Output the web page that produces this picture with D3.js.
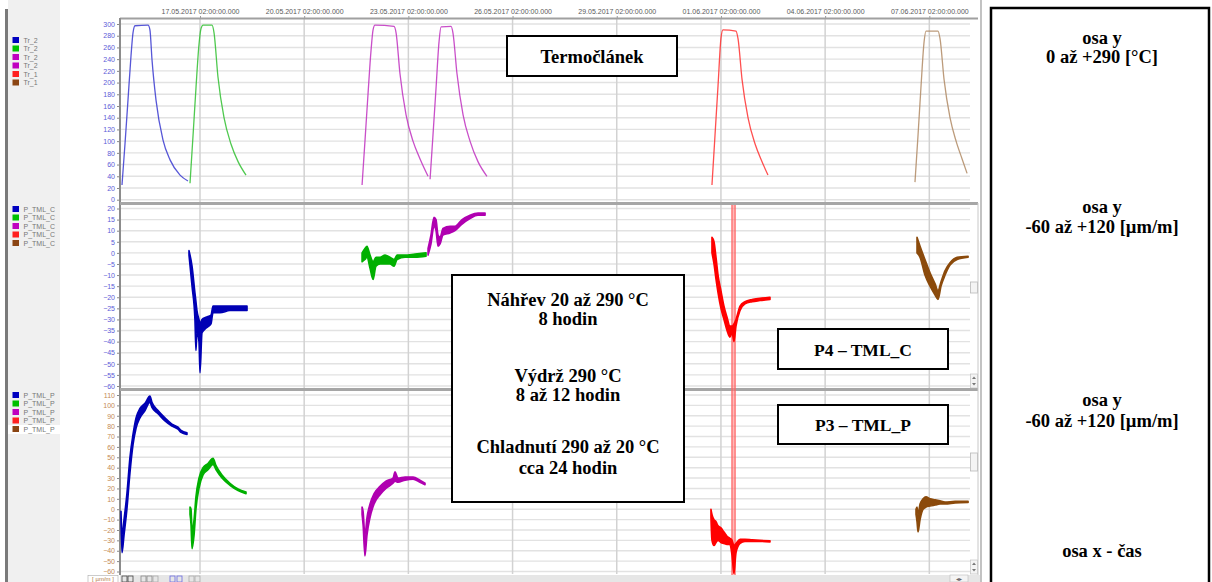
<!DOCTYPE html>
<html><head><meta charset="utf-8">
<script src="https://cdn.jsdelivr.net/npm/d3@7"></script>
<style>body{margin:0;background:#fff;overflow:hidden}svg{display:block}</style>
</head><body><svg id="c" width="1212" height="582"></svg>
<script>
// ---------- DATA ----------
const xDomain = ["14.05.2017 18:43", "08.06.2017 06:07"];
const dateTicks = ["17.05.2017 02:00","20.05.2017 02:00","23.05.2017 02:00","26.05.2017 02:00","29.05.2017 02:00","01.06.2017 02:00","04.06.2017 02:00","07.06.2017 02:00"];
const tempTicks = [0,20,40,60,80,100,120,140,160,180,200,220,240,260,280,300];
const cTicks = [20,15,10,5,0,-5,-10,-15,-20,-25,-30,-35,-40,-45,-50,-55,-60];
const pTicks = [110,100,90,80,70,60,50,40,30,20,10,0,-10,-20,-30,-40,-50,-60];

const tempNames = ["Tr_2","Tr_2","Tr_2","Tr_2","Tr_1","Tr_1"];
const cNames = ["P_TML_C","P_TML_C","P_TML_C","P_TML_C","P_TML_C"];
const pNames = ["P_TML_P","P_TML_P","P_TML_P","P_TML_P","P_TML_P"];

// temperature [time, °C]
const tBlue = [["14.05.2017 20:06",25],["14.05.2017 22:10",95],["15.05.2017 00:14",170],["15.05.2017 02:18",245],["15.05.2017 03:42",285],["15.05.2017 05:06",297],["15.05.2017 14:06",298],["15.05.2017 15:24",290],["15.05.2017 16:48",240],["15.05.2017 19:36",170],["16.05.2017 00:24",102],["16.05.2017 05:18",68],["16.05.2017 12:12",42],["16.05.2017 17:42",32]];
const tGreen = [["16.05.2017 19:06",28],["16.05.2017 21:12",110],["16.05.2017 23:12",190],["17.05.2017 01:18",265],["17.05.2017 02:42",292],["17.05.2017 04:06",298],["17.05.2017 10:18",298],["17.05.2017 11:42",285],["17.05.2017 14:24",210],["17.05.2017 18:36",140],["17.05.2017 23:24",95],["18.05.2017 04:18",65],["18.05.2017 09:48",42]];
const tMagenta1 = [["21.05.2017 18:00",25],["21.05.2017 20:00",100],["21.05.2017 22:06",180],["22.05.2017 00:12",255],["22.05.2017 01:36",290],["22.05.2017 02:54",298],["22.05.2017 16:06",296],["22.05.2017 17:30",285],["22.05.2017 20:12",215],["23.05.2017 00:24",145],["23.05.2017 05:12",100],["23.05.2017 10:00",70],["23.05.2017 15:36",40]];
const tMagenta2 = [["23.05.2017 17:00",35],["23.05.2017 19:00",110],["23.05.2017 21:06",190],["23.05.2017 23:12",270],["24.05.2017 00:36",295],["24.05.2017 07:30",296],["24.05.2017 08:48",285],["24.05.2017 11:36",215],["24.05.2017 15:48",145],["24.05.2017 20:36",100],["25.05.2017 02:06",65],["25.05.2017 08:18",40]];
const tRed = [["31.05.2017 19:48",25],["31.05.2017 21:54",110],["01.06.2017 00:00",195],["01.06.2017 02:00",275],["01.06.2017 03:24",290],["01.06.2017 12:24",288],["01.06.2017 13:48",275],["01.06.2017 16:36",205],["01.06.2017 20:42",140],["02.06.2017 01:36",95],["02.06.2017 06:24",65],["02.06.2017 10:30",42]];
const tBrown = [["06.06.2017 16:06",30],["06.06.2017 18:12",110],["06.06.2017 20:18",195],["06.06.2017 22:24",270],["06.06.2017 23:42",288],["07.06.2017 08:00",288],["07.06.2017 09:24",275],["07.06.2017 12:12",205],["07.06.2017 16:18",140],["07.06.2017 20:30",100],["08.06.2017 00:36",70],["08.06.2017 04:06",45]];

// strain C [time, low, high] µm/m
const cBlue = [["16.05.2017 18:24",-1,1],["16.05.2017 20:30",-15,-6],["16.05.2017 22:30",-30,-18],["16.05.2017 23:12",-44,-22],["16.05.2017 23:54",-36,-26],["17.05.2017 01:18",-40,-30],["17.05.2017 02:00",-54,-32],["17.05.2017 03:24",-36,-30],["17.05.2017 06:06",-34,-29],["17.05.2017 09:36",-32,-28],["17.05.2017 11:00",-27,-24],["17.05.2017 15:48",-27,-24],["17.05.2017 22:42",-26,-24],["18.05.2017 10:30",-26,-24]];
const cGreen = [["21.05.2017 18:00",-4,0],["21.05.2017 20:00",-3,2],["21.05.2017 21:24",-2,3],["21.05.2017 23:30",-7,-1],["22.05.2017 01:36",-12,-4],["22.05.2017 03:36",-6,-2],["22.05.2017 06:24",-5,-2],["22.05.2017 09:54",-5,-1],["22.05.2017 13:18",-5,-2],["22.05.2017 16:06",-6,-3],["22.05.2017 18:12",-3,-1],["22.05.2017 23:42",-2,-1],["23.05.2017 06:36",-2,-0.5],["23.05.2017 14:12",-1.5,0]];
const cMagenta = [["23.05.2017 15:36",-1,2],["23.05.2017 17:36",4,8],["23.05.2017 19:42",12,16],["23.05.2017 21:06",10,15],["23.05.2017 22:30",3,8],["23.05.2017 23:54",4,7],["24.05.2017 01:54",8,11],["24.05.2017 06:48",9,12],["24.05.2017 10:12",10,12],["24.05.2017 15:06",13,15],["24.05.2017 20:36",15.5,17],["25.05.2017 02:06",17,18],["25.05.2017 07:00",17,18]];
const cRed = [["31.05.2017 19:48",0,7],["31.05.2017 21:12",-5,5],["31.05.2017 22:36",-12,-2],["01.06.2017 00:00",-18,-10],["01.06.2017 02:00",-25,-17],["01.06.2017 04:06",-30,-24],["01.06.2017 06:12",-35,-29],["01.06.2017 08:12",-38,-33],["01.06.2017 09:42",-36,-33],["01.06.2017 11:00",-40,-32],["01.06.2017 12:24",-33,-30],["01.06.2017 15:12",-26,-24],["01.06.2017 18:36",-23,-22],["01.06.2017 23:30",-22,-21],["02.06.2017 05:00",-21.5,-20.5],["02.06.2017 11:54",-21,-20]];
const cBrown = [["06.06.2017 17:30",0,7],["06.06.2017 19:36",-2,3],["06.06.2017 23:00",-10,-3],["07.06.2017 02:30",-15,-9],["07.06.2017 06:00",-19,-14],["07.06.2017 08:00",-21,-17],["07.06.2017 10:06",-15,-13],["07.06.2017 12:54",-10,-8],["07.06.2017 16:18",-5.5,-4.5],["07.06.2017 21:12",-3,-2],["08.06.2017 04:48",-2,-1.5]];

// strain P [time, low, high] µm/m
const pBlue = [["14.05.2017 19:24",-10,-2],["14.05.2017 20:06",-42,-25],["14.05.2017 21:30",-25,-10],["14.05.2017 23:30",0,15],["15.05.2017 01:36",35,50],["15.05.2017 03:42",62,72],["15.05.2017 05:48",78,88],["15.05.2017 08:30",88,97],["15.05.2017 12:00",95,102],["15.05.2017 15:24",103,109],["15.05.2017 16:48",98,103],["15.05.2017 21:00",92,95],["16.05.2017 01:48",85,88],["16.05.2017 06:36",80,82],["16.05.2017 10:48",77,79],["16.05.2017 12:54",74,76],["16.05.2017 17:00",72,73.5]];
const pGreen = [["16.05.2017 19:06",-5,2],["16.05.2017 19:48",-15,0],["16.05.2017 20:30",-38,-20],["16.05.2017 21:54",-25,-10],["16.05.2017 23:12",0,12],["17.05.2017 01:18",20,30],["17.05.2017 04:06",33,40],["17.05.2017 07:30",38,44],["17.05.2017 11:00",43,49],["17.05.2017 13:06",38,42],["17.05.2017 17:12",30,33],["17.05.2017 22:42",23,25],["18.05.2017 04:18",18,19.5],["18.05.2017 09:48",15,16.5]];
const pMagenta = [["21.05.2017 18:00",-5,2],["21.05.2017 18:42",-15,-2],["21.05.2017 20:00",-45,-25],["21.05.2017 21:24",-25,-8],["21.05.2017 23:30",-8,5],["22.05.2017 02:18",5,15],["22.05.2017 06:24",14,22],["22.05.2017 10:30",20,27],["22.05.2017 15:24",25,30],["22.05.2017 16:48",27,36],["22.05.2017 18:48",26,30],["22.05.2017 23:42",28,31],["23.05.2017 05:12",29,31],["23.05.2017 10:00",26,28],["23.05.2017 13:30",23.5,25]];
const pRed = [["31.05.2017 19:06",-8,0],["31.05.2017 19:48",-30,-5],["31.05.2017 21:12",-35,-10],["31.05.2017 22:36",-32,-12],["01.06.2017 00:00",-30,-16],["01.06.2017 02:00",-32,-18],["01.06.2017 04:06",-33,-22],["01.06.2017 06:12",-34,-26],["01.06.2017 08:12",-34,-28],["01.06.2017 09:42",-45,-30],["01.06.2017 11:00",-62,-35],["01.06.2017 12:24",-42,-33],["01.06.2017 15:12",-33,-29],["01.06.2017 18:36",-31,-29],["01.06.2017 23:30",-31,-29.5],["02.06.2017 05:00",-31,-30],["02.06.2017 11:54",-31.5,-30.5]];
const pBrown = [["06.06.2017 16:48",-5,0],["06.06.2017 17:30",-12,2],["06.06.2017 18:12",-22,-5],["06.06.2017 19:36",-10,5],["06.06.2017 21:42",0,10],["06.06.2017 23:42",2,12],["07.06.2017 02:30",3,10],["07.06.2017 06:00",4,9],["07.06.2017 09:24",5,8],["07.06.2017 12:54",5,7],["07.06.2017 19:48",6,7.5],["08.06.2017 04:48",6.5,7.5]];

const markerBand = ["01.06.2017 09:00","01.06.2017 12:24"];

const boxTitle = "Termočlánek";
const boxInfo = ["Náhřev 20 až 290 °C","8 hodin","Výdrž 290 °C","8 až 12 hodin","Chladnutí 290 až 20 °C","cca 24 hodin"];
const boxC = "P4 – TML_C";
const boxP = "P3 – TML_P";
const sideTexts = [["osa y","0 až +290 [°C]"],["osa y","-60 až +120 [µm/m]"],["osa y","-60 až +120 [µm/m]"],["osa x - čas"]];

// ---------- DRAW ----------
const svg = d3.select("#c");
const parse = d3.timeParse("%d.%m.%Y %H:%M");
const X0 = 120, X1 = 970;
const x = d3.scaleTime().domain(xDomain.map(parse)).range([X0, X1]);

const tempColors = ["#3a3ad0","#30c030","#c030c0","#c030c0","#ff3030","#b08a64"];
const strainColors = ["#0000b4","#00b000","#b000b0","#ff0000","#8b4a0b"];
const legendTemp = ["#0000c0","#00c000","#c000c0","#c000c0","#ff2020","#8b4513"];
const legendStrain = ["#0000c0","#00c000","#c000c0","#ff2020","#8b4513"];

const panels = [
  {top:19, bottom:202, y:d3.scaleLinear().domain([0,300]).range([199.7,24]), ticks:tempTicks, color:"#5c5cd8"},
  {top:205, bottom:388, y:d3.scaleLinear().domain([-60,20]).range([386,208.5]), ticks:cTicks, color:"#5c5cd8"},
  {top:391, bottom:574, y:d3.scaleLinear().domain([-60,110]).range([571.5,395]), ticks:pTicks, color:"#c48a55"}
];

// left sidebar
svg.append("rect").attr("x",8).attr("y",0).attr("width",52).attr("height",582).attr("fill","#f0f0f0");
svg.append("rect").attr("x",5).attr("y",9).attr("width",3).attr("height",573).attr("fill","#7a7a7a");
svg.append("rect").attr("x",8).attr("y",425).attr("width",52).attr("height",9).attr("fill","#fff");

// clip paths
const defs = svg.append("defs");
panels.forEach((p,i)=>{
  defs.append("clipPath").attr("id","clip"+i).append("rect")
    .attr("x",X0).attr("y",p.top).attr("width",X1-X0).attr("height",p.bottom-p.top);
});

// horizontal grid
panels.forEach(p=>{
  svg.append("g").selectAll("line").data(p.ticks).join("line")
    .attr("x1",X0).attr("x2",X1).attr("y1",d=>p.y(d)).attr("y2",d=>p.y(d))
    .attr("stroke","#e2e2e2").attr("stroke-width",1.4);
});
// vertical grid
svg.append("g").selectAll("line").data(dateTicks.map(parse)).join("line")
  .attr("x1",d=>x(d)).attr("x2",d=>x(d)).attr("y1",19).attr("y2",574)
  .attr("stroke","#d2d2d2").attr("stroke-width",1.5);

// top date axis
const ax = svg.append("g").attr("transform","translate(0,19)")
  .call(d3.axisTop(x).tickValues(dateTicks.map(parse)).tickSize(3).tickPadding(2)
    .tickFormat(d3.timeFormat("%d.%m.%Y %H:%M:%S.000")));
ax.select(".domain").remove();
ax.selectAll("line").attr("stroke","#999");
ax.selectAll("text").attr("fill","#5a5a5a").style("font-size","7px").style("font-family","Liberation Sans, Arial, sans-serif");

// top border
svg.append("line").attr("x1",X0).attr("x2",978).attr("y1",18.5).attr("y2",18.5).attr("stroke","#a0a0a0").attr("stroke-width",2);

// y axes
panels.forEach(p=>{
  const g = svg.append("g").attr("transform",`translate(${X0},0)`)
    .call(d3.axisLeft(p.y).tickValues(p.ticks).tickSize(3).tickPadding(2).tickFormat(d3.format("d")));
  g.select(".domain").remove();
  g.selectAll("line").attr("stroke","#888");
  g.selectAll("text").attr("fill",p.color).style("font-size","7px").style("font-family","Liberation Sans, Arial, sans-serif");
});
svg.append("line").attr("x1",X0).attr("x2",X0).attr("y1",18).attr("y2",575).attr("stroke","#8c8c8c").attr("stroke-width",2);

// panel separators
[203.5, 389.5].forEach(yy=>{
  svg.append("line").attr("x1",X0).attr("x2",978).attr("y1",yy).attr("y2",yy).attr("stroke","#a6a6a6").attr("stroke-width",3);
});

// marker band
const mb = markerBand.map(parse);
svg.append("rect").attr("x",x(mb[0])).attr("y",205).attr("width",x(mb[1])-x(mb[0])).attr("height",377)
  .attr("fill","#ff8080").attr("opacity",0.55);
svg.append("line").attr("x1",x(mb[0])+1).attr("x2",x(mb[0])+1).attr("y1",205).attr("y2",582).attr("stroke","#ff5050").attr("stroke-width",0.8);
svg.append("line").attr("x1",x(mb[1])-1).attr("x2",x(mb[1])-1).attr("y1",205).attr("y2",582).attr("stroke","#ff5050").attr("stroke-width",0.8);

// temperature lines
const p0 = panels[0];
const line = d3.line().x(d=>x(parse(d[0]))).y(d=>p0.y(d[1])).curve(d3.curveMonotoneX);
const gT = svg.append("g").attr("clip-path","url(#clip0)");
[tBlue,tGreen,tMagenta1,tMagenta2,tRed,tBrown].forEach((s,i)=>{
  gT.append("path").attr("d",line(s)).attr("fill","none").attr("stroke",tempColors[i]).attr("stroke-width",1.3).attr("opacity",0.85);
});

// strain bands
function drawBands(series, p, clipId){
  const area = d3.area().x(d=>x(parse(d[0]))).y0(d=>p.y(d[1])).y1(d=>p.y(d[2])).curve(d3.curveMonotoneX);
  const g = svg.append("g").attr("clip-path",`url(#${clipId})`);
  series.forEach((s,i)=>{
    g.append("path").attr("d",area(s)).attr("fill",strainColors[i]).attr("stroke",strainColors[i])
      .attr("stroke-width",1.6).attr("stroke-linejoin","round");
  });
}
drawBands([cBlue,cGreen,cMagenta,cRed,cBrown], panels[1], "clip1");
drawBands([pBlue,pGreen,pMagenta,pRed,pBrown], panels[2], "clip2");

// legends
function legend(names, colors, y0){
  const g = svg.append("g");
  names.forEach((n,i)=>{
    const yy = y0 + i*8.5;
    g.append("rect").attr("x",12.5).attr("y",yy-3).attr("width",6.5).attr("height",6).attr("fill",colors[i]);
    g.append("text").attr("x",23.5).attr("y",yy+2.5).text(n).attr("fill","#777")
      .style("font-size","7px").style("font-family","Liberation Sans, Arial, sans-serif");
  });
}
legend(tempNames, legendTemp, 40);
legend(cNames, legendStrain, 209);
legend(pNames, legendStrain, 395);

// scrollbar column
svg.append("line").attr("x1",978).attr("x2",978).attr("y1",203).attr("y2",578).attr("stroke","#c8c8c8");
function thumb(y, h){
  svg.append("rect").attr("x",970.5).attr("y",y).attr("width",7).attr("height",h).attr("fill","#f4f4f4").attr("stroke","#b8b8b8").attr("stroke-width",0.8);
}
thumb(282,11); thumb(453,18);
[[374,388],[560,574]].forEach(([a,b])=>{
  svg.append("rect").attr("x",970.5).attr("y",a).attr("width",7).attr("height",b-a).attr("fill","#f4f4f4").attr("stroke","#b8b8b8").attr("stroke-width",0.6);
  svg.append("path").attr("d",`M972,${a+5} L974,${a+2.5} L976,${a+5}Z M972,${b-5} L974,${b-2.5} L976,${b-5}Z`).attr("fill","#777");
});

// bottom toolbar
svg.append("rect").attr("x",X0).attr("y",575).attr("width",860).attr("height",7).attr("fill","#e6e6e6");
svg.append("rect").attr("x",88).attr("y",575.5).attr("width",30).attr("height",7).attr("fill","#fff").attr("stroke","#aaa").attr("stroke-width",0.6);
svg.append("text").attr("x",103).attr("y",581).attr("text-anchor","middle").text("[ µm/m ]").attr("fill","#b07840")
  .style("font-size","6px").style("font-family","Liberation Sans, Arial, sans-serif");
[[122,"#444"],[128,"#444"],[141,"#888"],[147,"#888"],[153,"#aaa"],[170,"#6a6ae0"],[177,"#6a6ae0"],[189,"#aaa"],[195,"#aaa"]].forEach(([xx,c])=>{
  svg.append("rect").attr("x",xx).attr("y",576).attr("width",5).attr("height",6).attr("fill","none").attr("stroke",c).attr("stroke-width",0.8);
});
svg.append("rect").attr("x",950).attr("y",575).attr("width",18).attr("height",7).attr("fill","#f4f4f4").attr("stroke","#bbb").attr("stroke-width",0.6);
svg.append("text").attr("x",959).attr("y",581).attr("text-anchor","middle").text("◂▸").attr("fill","#666").style("font-size","6px");

// separator & right panel
svg.append("line").attr("x1",981).attr("x2",981).attr("y1",0).attr("y2",582).attr("stroke","#9a9a9a").attr("stroke-width",1.2);
svg.append("rect").attr("x",991).attr("y",8).attr("width",218).attr("height",580).attr("fill","#fff").attr("stroke","#000").attr("stroke-width",2.5);

const serif = "Liberation Serif, 'Times New Roman', serif";
function txt(xx, yy, s, size){
  return svg.append("text").attr("x",xx).attr("y",yy).attr("text-anchor","middle").attr("dominant-baseline","central")
    .text(s).attr("fill","#000").style("font-family",serif).style("font-weight","bold").style("font-size",size+"px");
}
const sideY = [[38,57],[207,227],[400,421],[551]];
sideTexts.forEach((arr,i)=>arr.forEach((s,j)=>txt(1102, sideY[i][j], s, 18.5)));

// boxes
function box(x0,y0,w,h){
  svg.append("rect").attr("x",x0).attr("y",y0).attr("width",w).attr("height",h).attr("fill","#fff").attr("stroke","#000").attr("stroke-width",2);
}
box(507,36,170,40); txt(592,57,boxTitle,18.5);
box(452,275,232,227);
const infoY = [300,319,376,395,447,468];
boxInfo.forEach((s,i)=>txt(568, infoY[i], s, 18.5));
box(778,329,170,40); txt(863,349.5,boxC,17.5);
box(778,405,170,39); txt(863,425,boxP,17.5);
</script>
</body></html>
